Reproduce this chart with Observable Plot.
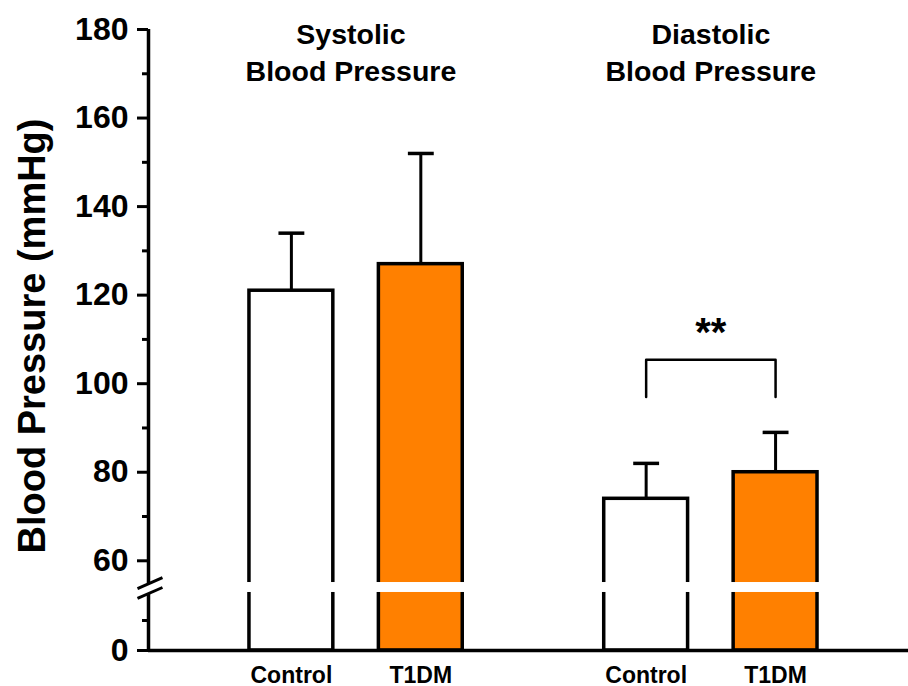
<!DOCTYPE html>
<html>
<head>
<meta charset="utf-8">
<script src="https://cdn.jsdelivr.net/npm/d3@7"></script>
<script src="https://cdn.jsdelivr.net/npm/@observablehq/plot@0.6"></script>
<style>
  html, body { margin: 0; padding: 0; background: #fff; }
  #chart { width: 908px; height: 686px; }
</style>
</head>
<body>
<div id="chart"></div>
<script>
// ---- data ----
const groupTitles = ["Systolic\nBlood Pressure", "Diastolic\nBlood Pressure"];
const conditions = ["Control", "T1DM"];
const systolicMean = [121, 127];
const systolicSD = [13, 25];
const diastolicMean = [74, 80];
const diastolicSD = [8, 9];
const majorTicks = [0, 60, 80, 100, 120, 140, 160, 180];
const minorTicks = [10, 70, 90, 110, 130, 150, 170];
const significance = [{group: 1, label: "**", top: 105.4, leg: 97}];
const fills = ["#ffffff", "#ff8000"];

// ---- layout helpers ----
const groupGap = 2.741;        // distance between groups, in bar slots
const halfBar = 0.324;
const pos = (g, c) => g * groupGap + c;
const xMin = -1.104, xMax = 4.768;

const rows = [];
[systolicMean, diastolicMean].forEach((means, g) => {
  const sds = g === 0 ? systolicSD : diastolicSD;
  means.forEach((m, c) => rows.push({g, c, cond: conditions[c], mean: m, sd: sds[c], fill: fills[c]}));
});
const titles = groupTitles.map((t, g) => ({g, t}));
const tickPos = rows.map(d => pos(d.g, d.c));
const tickLabel = new Map(rows.map(d => [pos(d.g, d.c), d.cond]));

// broken axis: lower segment 0..16, compressed gap, upper 56..180
const yDomain = [0, 16, 56, 180];
const yRange = [650, 602, 578, 29];

const font = "'Liberation Sans', Arial, Helvetica, sans-serif";

const chart = Plot.plot({
  width: 908,
  height: 686,
  marginLeft: 148,
  marginRight: 0,
  marginTop: 29,
  marginBottom: 36,
  style: {fontFamily: font, background: "white", color: "black", overflow: "visible"},
  x: {type: "linear", domain: [xMin, xMax], axis: null},
  y: {type: "linear", domain: yDomain, range: yRange, axis: null},
  marks: [
    // error bars
    Plot.ruleX(rows, {x: d => pos(d.g, d.c), y1: "mean", y2: d => d.mean + d.sd, stroke: "black", strokeWidth: 3}),
    Plot.link(rows, {x1: d => pos(d.g, d.c) - 0.1, x2: d => pos(d.g, d.c) + 0.1, y1: d => d.mean + d.sd, y2: d => d.mean + d.sd, stroke: "black", strokeWidth: 3.5}),
    // bars
    Plot.rect(rows, {x1: d => pos(d.g, d.c) - halfBar, x2: d => pos(d.g, d.c) + halfBar, y1: 0, y2: "mean", fill: "fill", stroke: "black", strokeWidth: 3.5}),
    // break strip on bars
    Plot.rect(rows, {x1: d => pos(d.g, d.c) - halfBar - 0.03, x2: d => pos(d.g, d.c) + halfBar + 0.03, y1: 32.7, y2: 49.3, fill: "white"}),
    // x axis line
    Plot.ruleY([0], {stroke: "black", strokeWidth: 3.5}),
    // y axis line with break
    Plot.ruleX([xMin], {y1: 0, y2: 31, stroke: "black", strokeWidth: 3.5}),
    Plot.ruleX([xMin], {y1: 47.7, y2: 180, stroke: "black", strokeWidth: 3.5}),
    Plot.link([{a: 39.3, b: 56.2}, {a: 22.7, b: 41}], {x1: xMin - 0.085, x2: xMin + 0.108, y1: "a", y2: "b", stroke: "black", strokeWidth: 3}),
    // y ticks
    Plot.axisY({ticks: majorTicks, tickSize: 11, tickPadding: 9, strokeWidth: 3, fontSize: 32, fontWeight: "bold", label: null, tickFormat: d => String(d)}),
    Plot.axisY({ticks: minorTicks, tickSize: 6, strokeWidth: 3, tickFormat: () => "", label: null}),
    // y label
    Plot.text(["Blood Pressure (mmHg)"], {frameAnchor: "left", textAnchor: "middle", rotate: -90, dx: -116, dy: -4, fontSize: 38, fontWeight: "bold", fill: "black"}),
    // x tick labels
    Plot.axisX({ticks: tickPos, tickSize: 0, tickPadding: 16, fontSize: 23, fontWeight: "bold", label: null, tickFormat: d => tickLabel.get(d) ?? ""}),
    // group titles
    Plot.text(titles, {x: d => pos(d.g, 0.5) - (d.g === 0 ? 0.04 : 0), y: 175.2, text: "t", fontSize: 28.5, fontWeight: "bold", lineHeight: 1.3, fill: "black"}),
    // significance bracket
    Plot.line(significance.flatMap(s => [
      {x: pos(s.group, 0), y: s.leg}, {x: pos(s.group, 0), y: s.top},
      {x: pos(s.group, 1), y: s.top}, {x: pos(s.group, 1), y: s.leg}
    ]), {x: "x", y: "y", stroke: "black", strokeWidth: 2.5}),
    Plot.text(significance, {x: s => pos(s.group, 0.5), y: s => s.top, text: "label", dy: -14, lineAnchor: "bottom", fontSize: 40, fontWeight: "bold", fill: "black"})
  ]
});
document.getElementById("chart").appendChild(chart);
</script>
</body>
</html>
